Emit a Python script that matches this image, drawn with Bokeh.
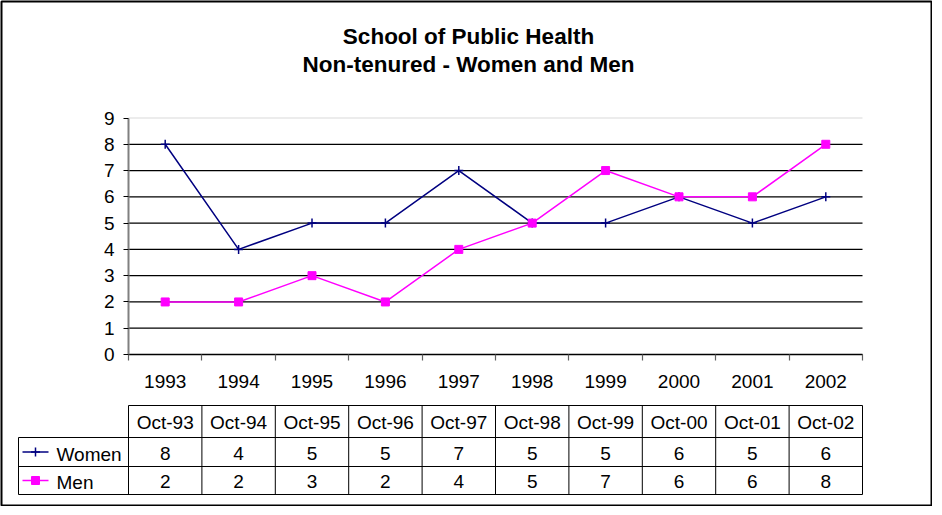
from bokeh.plotting import figure
from bokeh.models import Range1d, LinearAxis, FixedTicker
from bokeh.core.properties import value
from bokeh.embed import file_html
from bokeh.resources import INLINE

# ---------------- data ----------------
YEARS = ["1993", "1994", "1995", "1996", "1997", "1998", "1999", "2000", "2001", "2002"]
DATES = ["Oct-93", "Oct-94", "Oct-95", "Oct-96", "Oct-97", "Oct-98", "Oct-99", "Oct-00", "Oct-01", "Oct-02"]
WOMEN = [8, 4, 5, 5, 7, 5, 5, 6, 5, 6]
MEN = [2, 2, 3, 2, 4, 5, 7, 6, 6, 8]
SERIES = ["Women", "Men"]
Y_TICKS = [0, 1, 2, 3, 4, 5, 6, 7, 8, 9]
TITLE_LINES = ["School of Public Health", "Non-tenured - Women and Men"]

# ---------------- layout (chart pixels) ----------------
FONT = "Liberation Sans"
FIG_W, FIG_H = 932, 506
FRAME_L, FRAME_R, FRAME_T, FRAME_B = 6, 936, 4, 508
PLOT_L, PLOT_R, PLOT_T, PLOT_B = 133, 867, 120.5, 357
TABLE_ROWS_PX = [408, 440, 469, 497]
TABLE_LEFT_PX = 23
LEG_LINE_PX = (27, 53)
LEG_TEXT_PX = 61
TITLE_X_PX = 473
TITLE_Y_PX = [38.5, 66.5]

n = len(YEARS)
ymax = Y_TICKS[-1]
ux = (PLOT_R - PLOT_L) / n
uy = (PLOT_B - PLOT_T) / ymax


def px_to_x(px):
    return (px - PLOT_L) / ux


x_range = Range1d(px_to_x(FRAME_L), px_to_x(FRAME_R))
y_range = Range1d(-(FRAME_B - PLOT_B) / uy, ymax + (PLOT_T - FRAME_T) / uy)

p = figure(width=FIG_W, height=FIG_H, x_range=x_range, y_range=y_range,
           x_axis_location=None, y_axis_location=None,
           toolbar_location=None, output_backend="svg", min_border=1)
p.extra_x_ranges = {"page_x": Range1d(FRAME_L, FRAME_R)}
p.extra_y_ranges = {"page_y": Range1d(FRAME_B, FRAME_T)}
p.xgrid.visible = False
p.ygrid.visible = False
p.background_fill_color = "white"
p.border_fill_color = "white"
p.outline_line_color = "black"
p.outline_line_width = 2

centers = [i + 0.5 for i in range(n)]
bounds = list(range(n + 1))

# ---------------- title ----------------
p.text(x=[TITLE_X_PX] * len(TITLE_LINES), y=TITLE_Y_PX, text=TITLE_LINES,
       x_range_name="page_x", y_range_name="page_y",
       text_font=value(FONT), text_font_size="22.5px", text_font_style="bold",
       text_align="center", text_baseline="middle", text_color="black")

# ---------------- gridlines ----------------
grid_dark = [t for t in Y_TICKS if t < ymax]
p.segment(x0=[0] * len(grid_dark), x1=[n] * len(grid_dark), y0=grid_dark, y1=grid_dark,
          line_color="black", line_width=1.2)
p.segment(x0=[0], x1=[n], y0=[ymax], y1=[ymax], line_color="#d9d9d9", line_width=1.2)

# ---------------- axes ----------------
yaxis = LinearAxis(fixed_location=0, ticker=FixedTicker(ticks=Y_TICKS), bounds=(0, ymax))
yaxis.axis_line_color = "#808080"
yaxis.axis_line_width = 2
yaxis.major_tick_out = 5
yaxis.major_tick_in = 0
yaxis.major_tick_line_color = "black"
yaxis.major_tick_line_width = 1.2
yaxis.minor_tick_line_color = None
yaxis.major_label_text_font = FONT
yaxis.major_label_text_font_size = "19px"
yaxis.major_label_text_color = "black"
yaxis.major_label_standoff = 9
p.add_layout(yaxis, "left")

xaxis = LinearAxis(fixed_location=0,
                   ticker=FixedTicker(ticks=centers, minor_ticks=bounds),
                   bounds=(0, n))
xaxis.major_label_overrides = {c: y for c, y in zip(centers, YEARS)}
xaxis.axis_line_color = "black"
xaxis.axis_line_width = 1.5
xaxis.major_tick_line_color = None
xaxis.major_tick_out = 0
xaxis.major_tick_in = 0
xaxis.minor_tick_out = 6
xaxis.minor_tick_in = 0
xaxis.minor_tick_line_color = "#606060"
xaxis.minor_tick_line_width = 1.2
xaxis.major_label_text_font = FONT
xaxis.major_label_text_font_size = "19px"
xaxis.major_label_text_color = "black"
xaxis.major_label_standoff = 14
p.add_layout(xaxis, "below")

# ---------------- series ----------------
WOMEN_COLOR = "#000080"
MEN_COLOR = "#FF00FF"
p.line(centers, WOMEN, line_color=WOMEN_COLOR, line_width=1.5)
p.scatter(centers, WOMEN, marker="cross", size=9, line_color=WOMEN_COLOR, line_width=1.5)
p.line(centers, MEN, line_color=MEN_COLOR, line_width=1.5)
p.scatter(centers, MEN, marker="square", size=8, line_color=MEN_COLOR, fill_color=MEN_COLOR)

# ---------------- data table ----------------
t_left = px_to_x(TABLE_LEFT_PX)
row_top = TABLE_ROWS_PX
row_mid = [(row_top[i] + row_top[i + 1]) / 2 for i in range(len(row_top) - 1)]

# horizontal lines
hx0 = [0] + [t_left] * (len(row_top) - 1)
hx1 = [n] * len(row_top)
p.segment(x0=hx0, x1=hx1, y0=row_top, y1=row_top, y_range_name="page_y",
          line_color="black", line_width=1)
# vertical lines
vx = bounds + [t_left]
vy0 = [row_top[0]] * len(bounds) + [row_top[1]]
vy1 = [row_top[-1]] * len(vx)
p.segment(x0=vx, x1=vx, y0=vy0, y1=vy1, y_range_name="page_y",
          line_color="black", line_width=1)

# header row and values
p.text(x=centers, y=[row_mid[0] + 1] * n, text=DATES, y_range_name="page_y",
       text_font=value(FONT), text_font_size="19px", text_align="center",
       text_baseline="middle", text_color="black")
p.text(x=centers, y=[row_mid[1] + 1] * n, text=[str(v) for v in WOMEN], y_range_name="page_y",
       text_font=value(FONT), text_font_size="19px", text_align="center",
       text_baseline="middle", text_color="black")
p.text(x=centers, y=[row_mid[2] + 1] * n, text=[str(v) for v in MEN], y_range_name="page_y",
       text_font=value(FONT), text_font_size="19px", text_align="center",
       text_baseline="middle", text_color="black")

# legend keys in the table
lx0, lx1 = px_to_x(LEG_LINE_PX[0]), px_to_x(LEG_LINE_PX[1])
lxm = (lx0 + lx1) / 2
leg_y = [row_mid[1], row_mid[2]]
p.segment(x0=[lx0], x1=[lx1], y0=[leg_y[0]], y1=[leg_y[0]], y_range_name="page_y",
          line_color=WOMEN_COLOR, line_width=1.5)
p.scatter([lxm], [leg_y[0]], y_range_name="page_y", marker="cross", size=9,
          line_color=WOMEN_COLOR, line_width=1.5)
p.segment(x0=[lx0], x1=[lx1], y0=[leg_y[1]], y1=[leg_y[1]], y_range_name="page_y",
          line_color=MEN_COLOR, line_width=1.5)
p.scatter([lxm], [leg_y[1]], y_range_name="page_y", marker="square", size=8,
          line_color=MEN_COLOR, fill_color=MEN_COLOR)
p.text(x=[px_to_x(LEG_TEXT_PX)] * 2, y=[leg_y[0] + 2, leg_y[1] + 2], text=SERIES,
       y_range_name="page_y", text_font=value(FONT), text_font_size="19px",
       text_align="left", text_baseline="middle", text_color="black")

open("out.html", "w").write(file_html(p, INLINE))
